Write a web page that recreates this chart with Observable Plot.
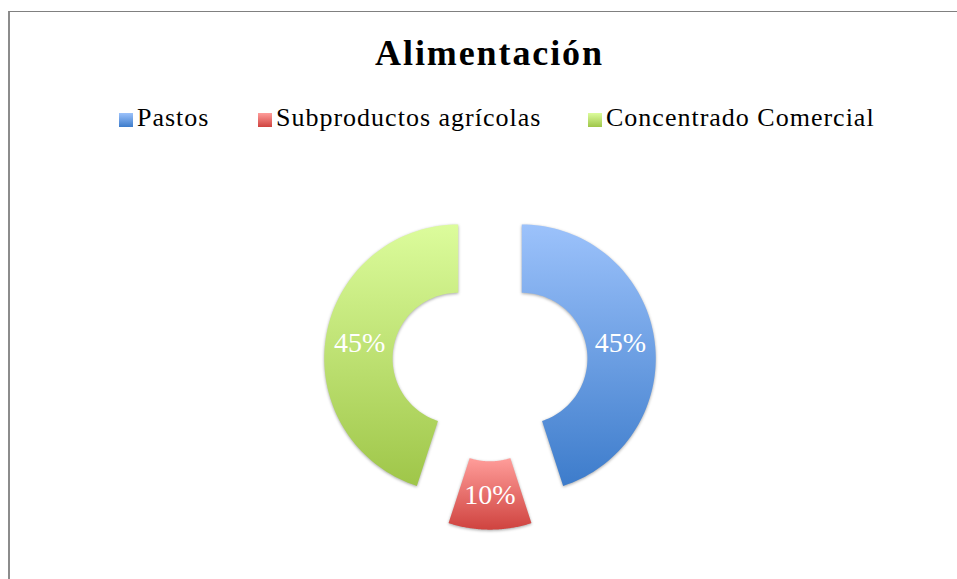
<!DOCTYPE html>
<html>
<head>
<meta charset="utf-8">
<script src="https://cdn.jsdelivr.net/npm/d3@7"></script>
<script src="https://cdn.jsdelivr.net/npm/@observablehq/plot@0.6"></script>
<style>
html, body { margin: 0; padding: 0; background: #fff; }
#wrap { position: relative; width: 957px; height: 579px; overflow: hidden; font-family: "Liberation Serif", serif; color: #000; }
#frame { position: absolute; left: 8px; top: 11px; width: 1000px; height: 700px; border-top: 1.5px solid #808080; border-left: 2.5px solid #8c8c8c; box-sizing: border-box; }
#header { position: absolute; left: 0; top: 0; width: 957px; height: 150px; }
#title { position: absolute; left: 0; width: 979px; top: 33px; text-align: center; font-weight: bold; font-size: 36px; letter-spacing: 1.9px; line-height: 40px; }
.item { position: absolute; top: 101px; display: flex; align-items: center; font-size: 26px; letter-spacing: 1px; line-height: 34px; white-space: nowrap; }
.sw { width: 14px; height: 14px; margin-right: 4px; margin-top: 3px; }
#chart { position: absolute; left: 0; top: 150px; }
#chart svg path { filter: drop-shadow(0px 1px 1.5px rgba(0,0,0,0.35)); }
</style>
</head>
<body>
<div id="wrap">
  <div id="frame"></div>
  <div id="header">
    <div id="title"></div>
    <div id="legend"></div>
  </div>
  <div id="chart"></div>
</div>
<script>
// ---- data ----
const title = "Alimentación";
const categories = ["Pastos", "Subproductos agrícolas", "Concentrado Comercial"];
const values = [45, 10, 45];
const valueLabels = ["45%", "10%", "45%"];

// ---- styles ----
const colorTop = ["#9cc2fb", "#ff9d9a", "#dcfc9c"];
const colorBottom = ["#3d7ccb", "#cf433f", "#9fc649"];
const legendLeft = [119, 258, 588];

document.getElementById("title").textContent = title;
const legend = document.getElementById("legend");
categories.forEach((c, i) => {
  const it = document.createElement("div");
  it.className = "item";
  it.style.left = legendLeft[i] + "px";
  const sw = document.createElement("div");
  sw.className = "sw";
  sw.style.background = `linear-gradient(${colorTop[i]}, ${colorBottom[i]})`;
  const t = document.createElement("span");
  t.textContent = c;
  it.appendChild(sw); it.appendChild(t);
  legend.appendChild(it);
});

// ---- geometry (in units of the outer radius) ----
const R = 1, r0 = 0.49, explode = 0.24, N = 80;
const arcs = d3.pie().sort(null).value(d => d)(values);

const slices = arcs.map((a, i) => {
  const mid = (a.startAngle + a.endAngle) / 2;
  const ox = explode * Math.sin(mid), oy = explode * Math.cos(mid);
  const pts = [];
  for (let k = 0; k <= N; k++) {
    const t = a.startAngle + (a.endAngle - a.startAngle) * k / N;
    pts.push({x: ox + R * Math.sin(t), y: oy + R * Math.cos(t)});
  }
  for (let k = N; k >= 0; k--) {
    const t = a.startAngle + (a.endAngle - a.startAngle) * k / N;
    pts.push({x: ox + r0 * Math.sin(t), y: oy + r0 * Math.cos(t)});
  }
  pts.push(pts[0]);
  const rm = (R + r0) / 2;
  return {pts, label: {x: ox + rm * Math.sin(mid), y: oy + rm * Math.cos(mid), text: valueLabels[i]}};
});

const defs = () => {
  const d = d3.create("svg:defs");
  colorTop.forEach((c, i) => {
    const lg = d.append("linearGradient").attr("id", "grad" + i)
      .attr("x1", 0).attr("y1", 0).attr("x2", 0).attr("y2", 1);
    lg.append("stop").attr("offset", "0%").attr("stop-color", colorTop[i]);
    lg.append("stop").attr("offset", "100%").attr("stop-color", colorBottom[i]);
  });
  return d.node();
};

const k = 134, cx = 489.5, cy = 213, W = 957, H = 429;
const chart = Plot.plot({
  width: W,
  height: H,
  margin: 0,
  x: {domain: [-cx / k, (W - cx) / k], axis: null},
  y: {domain: [-(H - cy) / k, cy / k], axis: null},
  style: {fontFamily: "Liberation Serif", background: "transparent"},
  marks: [
    defs,
    ...slices.map((s, i) => Plot.line(s.pts, {x: "x", y: "y", fill: `url(#grad${i})`, stroke: "none", curve: "linear"})),
    Plot.text(slices.map(s => s.label), {x: "x", y: "y", text: "text", fill: "white", fontSize: 28, letterSpacing: 1})
  ]
});
document.getElementById("chart").appendChild(chart);
</script>
</body>
</html>
